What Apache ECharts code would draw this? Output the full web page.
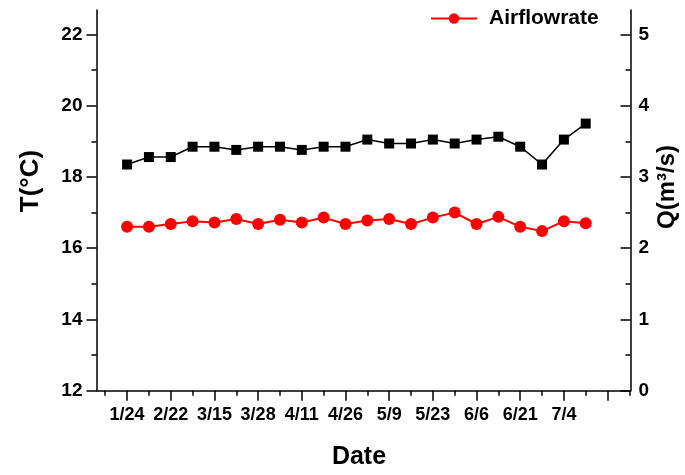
<!DOCTYPE html>
<html><head><meta charset="utf-8">
<script src="https://cdn.jsdelivr.net/npm/echarts@6/dist/echarts.min.js"></script>
<style>html,body{margin:0;padding:0;background:#fff}#c{width:685px;height:475px}</style>
</head><body><div id="c"></div>
<script>
// ---- data ----
const dateLabels = ['1/24','2/22','3/15','3/28','4/11','4/26','5/9','5/23','6/6','6/21','7/4']; // at even sample indices
const temperature = [18.35,18.56,18.56,18.85,18.85,18.76,18.85,18.85,18.76,18.85,18.85,19.05,18.94,18.94,19.05,18.94,19.05,19.13,18.85,18.35,19.05,19.50];
const airflow = [2.30,2.30,2.34,2.38,2.36,2.41,2.34,2.40,2.36,2.43,2.34,2.39,2.41,2.34,2.43,2.50,2.34,2.44,2.30,2.24,2.38,2.35];

// ---- layout ----
const W = 685, H = 475;
const L = 96.5, R = 630.5, TOP = 10, BOT = 390.7, Y22 = 34.5;
const XMIN = -1.4, XMAX = 23.05;
const TMIN = 12, TTOP = 22;
const TMAX = TMIN + (TTOP - TMIN) * (BOT - TOP) / (BOT - Y22);
const QTOP = 5;
const QMAX = QTOP * (BOT - TOP) / (BOT - Y22);
const px = i => L + (i - XMIN) / (XMAX - XMIN) * (R - L);

const FONT = "'Liberation Sans', Arial, sans-serif";
const black = '#000';
const lineW = 1.5;

const chart = echarts.init(document.getElementById('c'), null, {renderer: 'canvas'});
chart.setOption({
  animation: false,
  backgroundColor: '#fff',
  grid: [
    {left: L, right: W - R, top: TOP, bottom: H - BOT},
    {left: L, right: W - R, top: Y22, bottom: H - BOT},
    {left: px(-1), right: W - px(23), top: TOP, bottom: H - BOT},
    {left: px(0), right: W - px(22), top: TOP, bottom: H - BOT}
  ],
  xAxis: [
    {gridIndex: 0, type: 'value', min: XMIN, max: XMAX,
     axisLine: {onZero: false, lineStyle: {color: black, width: lineW}},
     axisTick: {show: false}, axisLabel: {show: false}, splitLine: {show: false}},
    {gridIndex: 1, type: 'value', min: 0, max: 1, show: false},
    {gridIndex: 2, type: 'value', min: -1, max: 23, interval: 1,
     axisLine: {show: false, onZero: false},
     axisTick: {show: true, length: 5, lineStyle: {color: black, width: lineW}},
     axisLabel: {show: false}, splitLine: {show: false}},
    {gridIndex: 3, type: 'value', min: 0, max: 22, interval: 2,
     axisLine: {show: false, onZero: false},
     axisTick: {show: true, length: 10, lineStyle: {color: black, width: lineW}},
     axisLabel: {show: true, margin: 15, color: black, fontFamily: FONT, fontWeight: 'bold', fontSize: 18,
       formatter: v => dateLabels[Math.round(v / 2)] || ''},
     splitLine: {show: false}}
  ],
  yAxis: [
    {gridIndex: 0, type: 'value', position: 'left', min: TMIN, max: TMAX,
     axisLine: {show: true, onZero: false, lineStyle: {color: black, width: lineW}},
     axisTick: {show: false}, axisLabel: {show: false}, splitLine: {show: false}},
    {gridIndex: 0, type: 'value', position: 'right', min: 0, max: QMAX,
     axisLine: {show: true, onZero: false, lineStyle: {color: black, width: lineW}},
     axisTick: {show: false}, axisLabel: {show: false}, splitLine: {show: false}},
    {gridIndex: 1, type: 'value', position: 'left', min: TMIN, max: TTOP, interval: 2,
     axisLine: {show: false},
     axisTick: {show: true, length: 10, lineStyle: {color: black, width: lineW}},
     minorTick: {show: true, splitNumber: 2, length: 5, lineStyle: {color: black, width: lineW}},
     axisLabel: {margin: 14, color: black, fontFamily: FONT, fontWeight: 'bold', fontSize: 19},
     splitLine: {show: false}, minorSplitLine: {show: false}},
    {gridIndex: 1, type: 'value', position: 'right', min: 0, max: QTOP, interval: 1,
     axisLine: {show: false},
     axisTick: {show: true, inside: true, length: 10, lineStyle: {color: black, width: lineW}},
     minorTick: {show: true, splitNumber: 2, length: 5, lineStyle: {color: black, width: lineW}},
     axisLabel: {margin: 8, color: black, fontFamily: FONT, fontWeight: 'bold', fontSize: 19},
     splitLine: {show: false}, minorSplitLine: {show: false}},
    {gridIndex: 2, type: 'value', min: 0, max: 1, show: false},
    {gridIndex: 3, type: 'value', min: 0, max: 1, show: false}
  ],
  legend: {
    data: ['Airflowrate'], left: 430, top: 8, padding: 0, itemWidth: 46, itemHeight: 13,
    textStyle: {color: black, fontFamily: FONT, fontWeight: 'bold', fontSize: 21, padding: [0, 0, 0, 7]}
  },
  graphic: [
    {type: 'text', x: 31, y: 181, rotation: Math.PI / 2,
     style: {text: 'T(°C)', fill: black, font: "bold 26px 'Liberation Sans', Arial, sans-serif", textAlign: 'center', textVerticalAlign: 'middle'}},
    {type: 'text', x: 667, y: 187, rotation: Math.PI / 2,
     style: {text: 'Q(m³/s)', fill: black, font: "bold 24px 'Liberation Sans', Arial, sans-serif", textAlign: 'center', textVerticalAlign: 'middle'}},
    {type: 'text', x: 359, y: 457,
     style: {text: 'Date', fill: black, font: "bold 25px 'Liberation Sans', Arial, sans-serif", textAlign: 'center', textVerticalAlign: 'middle'}}
  ],
  series: [
    {name: 'Temperature', type: 'line', xAxisIndex: 0, yAxisIndex: 0,
     data: temperature.map((v, i) => [i, v]),
     symbol: 'rect', symbolSize: 10, color: black,
     itemStyle: {color: black}, lineStyle: {color: black, width: 1.5}},
    {name: 'Airflowrate', type: 'line', xAxisIndex: 0, yAxisIndex: 1,
     data: airflow.map((v, i) => [i, v]),
     symbol: 'circle', symbolSize: 12, color: '#ff0000',
     itemStyle: {color: '#ff0000'}, lineStyle: {color: '#ff0000', width: 2}}
  ]
});
</script>
</body></html>
